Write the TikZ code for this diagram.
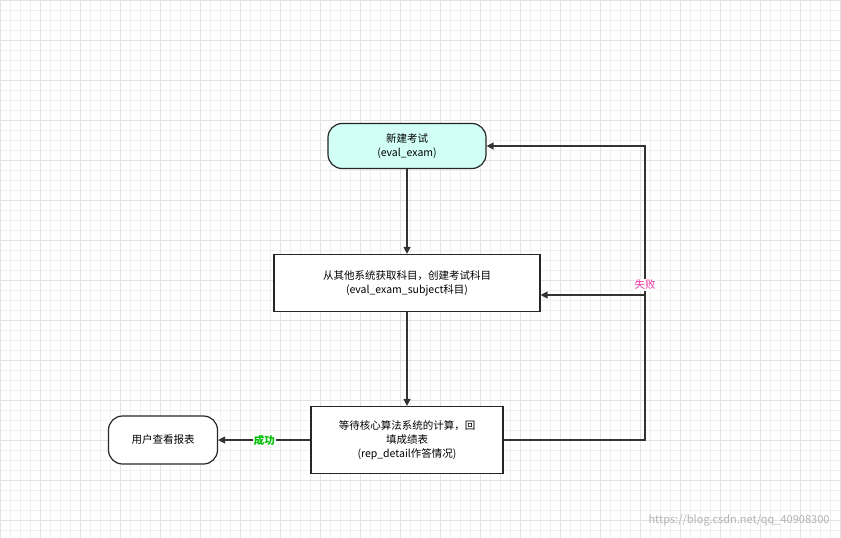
\documentclass[tikz,border=0pt]{standalone}
\usepackage{fontspec}
\setmainfont{Noto Sans CJK SC}
\usetikzlibrary{arrows.meta}
\begin{document}
\begin{tikzpicture}[x=1pt,y=-1pt,
  box/.style={draw=black!85,line width=1.2pt,align=center,font=\fontsize{10.5}{14}\selectfont,inner sep=0pt},
  arr/.style={draw=black!80,line width=1.3pt,-{Triangle[length=7pt,width=7pt]}},
  lab/.style={fill=white,inner sep=1pt,font=\fontsize{10.5}{12}\selectfont}]
\useasboundingbox (0,0) rectangle (841,538);
\fill[white] (0,0) rectangle (841,538);
\foreach \i in {0,10,...,840} \draw[black!6,line width=0.4pt] (\i,0) -- (\i,538);
\foreach \i in {0,10,...,530} \draw[black!6,line width=0.4pt] (0,\i) -- (841,\i);
\foreach \i in {0,40,...,840} \draw[black!11,line width=0.4pt] (\i,0) -- (\i,538);
\foreach \i in {0,40,...,530} \draw[black!11,line width=0.4pt] (0,\i) -- (841,\i);
\node[box,rounded corners=14pt,fill=green!20!cyan!18,minimum width=158,minimum height=45] (s) at (407,146) {新建考试\\(eval\_exam)};
\node[box,fill=white,minimum width=266,minimum height=57] (b2) at (407,283) {从其他系统获取科目，创建考试科目\\(eval\_exam\_subject科目)};
\node[box,fill=white,minimum width=192,minimum height=67] (b3) at (407,440) {等待核心算法系统的计算，回\\填成绩表\\(rep\_detail作答情况)};
\node[box,rounded corners=14pt,fill=white,minimum width=109,minimum height=48] (e) at (163,440) {用户查看报表};
\coordinate (c1) at (645,440);
\coordinate (c2) at (645,146);
\coordinate (c3) at (645,295);
\draw[arr] (s) -- (b2);
\draw[arr] (b2) -- (b3);
\draw[arr] (b3) -- node[lab,text=green!75!black,font=\bfseries\fontsize{10.5}{12}\selectfont]{成功} (e);
\draw[arr] (b3.east) -- (c1) -- (c2) -- (s.east);
\draw[arr] (c3) -- (b2.east |- c3);
\node[lab,text=magenta!80] (f) at (645,285) {失败};
\node[text=black!30,font=\fontsize{11}{12}\selectfont,anchor=east] (w) at (833,520) {https://blog.csdn.net/qq\_40908300};
\end{tikzpicture}
\end{document}
